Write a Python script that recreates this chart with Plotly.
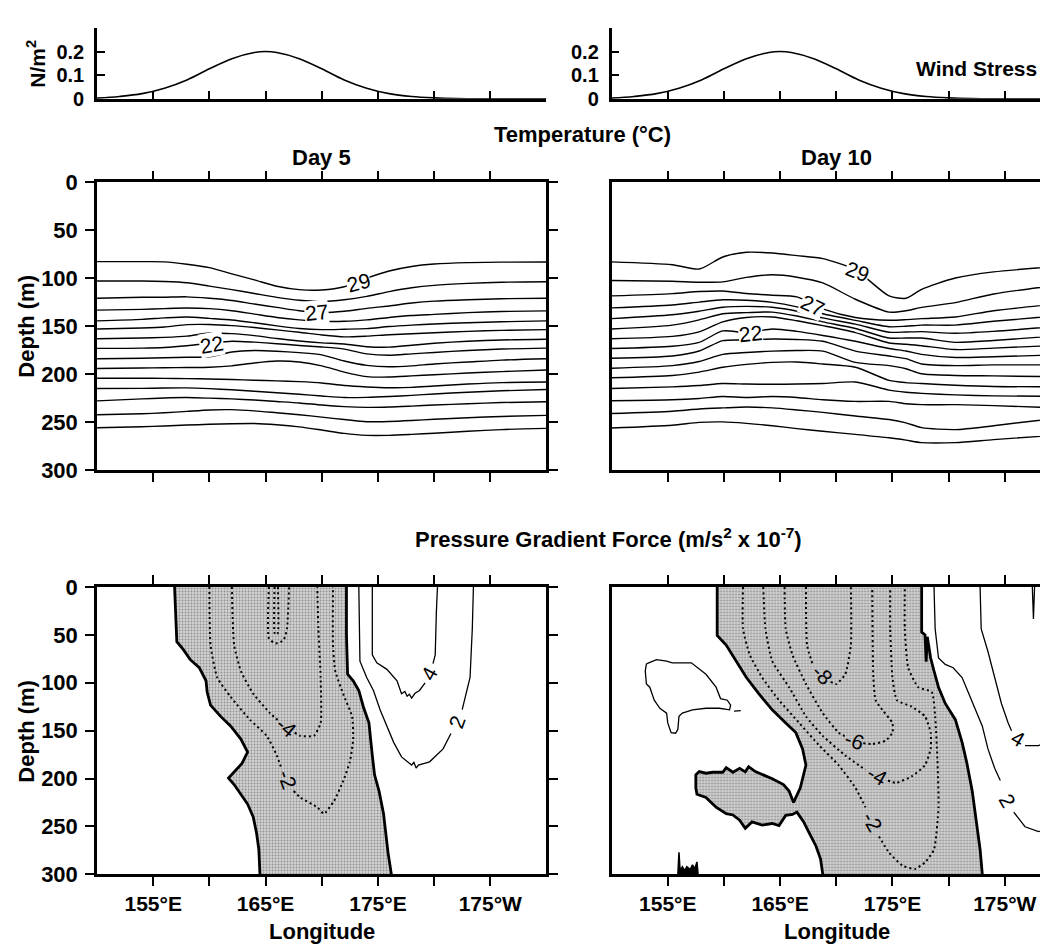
import plotly.graph_objects as go

FONT = "Liberation Sans, Arial, Helvetica, sans-serif"
W, H = 1048, 949

# ---------------- data ----------------
LON_TICKS = [155, 165, 175, 185]
LON_TICK_TEXT = ["155°E", "165°E", "175°E", "175°W"]
LON_MINOR_TICKS = [160, 170, 180]
WIND_LON_TICKS = [155, 160, 165, 170, 175, 180, 185]
DEPTH_TICKS = [0, 50, 100, 150, 200, 250, 300]
WIND_TICKS = [0, 0.1, 0.2]
WIND_TICK_TEXT = ["0", "0.1", "0.2"]

# Wind stress (N/m^2)
WIND_LON = [150, 152, 154, 156, 158, 160, 162, 164, 165, 166, 168, 170, 172, 174, 176, 178, 180, 182, 185, 190]
WIND_TAU = [0.003, 0.010, 0.022, 0.045, 0.080, 0.127, 0.170, 0.196, 0.200, 0.196, 0.170, 0.127, 0.080,
            0.045, 0.022, 0.010, 0.004, 0.001, 0.0, 0.0]

# Temperature, Day 5: isotherm depths (m) at DAY5_LON
DAY5_LON = [150, 154, 156, 158, 160, 162, 164, 166, 168, 170, 172, 174, 176, 178, 180, 183, 186, 190]
DAY5_T29 = [82.8, 82.8, 83, 85.5, 89, 95.5, 101.8, 108.5, 112, 112.3, 109, 100, 92.5, 87.8, 85.3, 83.8, 83.3, 83.1]
DAY5_T28 = [103, 103, 103.5, 104.8, 108.3, 112, 116, 120, 123, 124.2, 122.5, 119, 114, 110, 107.5, 105.5, 104.3, 103.7]
DAY5_T27 = [120.9, 120, 119.9, 119.5, 121, 123.3, 127, 130.5, 134, 135.8, 134.5, 131.5, 129, 126, 124, 122.5, 121.5, 120.9]
DAY5_T26 = [133.4, 132.6, 131.8, 131.2, 131.8, 134, 137.5, 141, 143.5, 145, 145, 143.5, 141, 139, 137.8, 136, 134.8, 134.1]
DAY5_T25 = [144.6, 143, 141.5, 140.5, 142, 143.6, 146.5, 149.8, 152.5, 153.7, 153.3, 152.7, 150.5, 149, 147.8, 146.5, 145.5, 144.6]
DAY5_T24 = [153, 152, 151, 148.5, 148.3, 149.5, 151.5, 154, 156.5, 159.3, 161.3, 160.5, 159, 158, 157, 155.5, 154.5, 153.7]
DAY5_T23 = [163.2, 162.5, 161.8, 160.5, 157.3, 157.9, 160, 163, 165.6, 167.5, 168.7, 171.5, 172, 170, 168, 165.8, 164.5, 163.8]
DAY5_T22 = [173.3, 173, 172.3, 170.5, 168, 165.8, 166.8, 168.4, 170.2, 171.8, 174, 179, 180.5, 179, 177.5, 175.5, 174, 173]
DAY5_T21 = [184.1, 183.5, 183, 182.5, 182, 177, 175.5, 176.2, 177.7, 180, 186.5, 191, 192.5, 191.5, 189.5, 187.5, 185.5, 184.1]
DAY5_T20 = [194.2, 193.8, 193.5, 193.3, 193, 191.5, 188.5, 186.5, 187.5, 191.5, 198, 202.7, 203.2, 202, 200.8, 199, 197.5, 195.9]
DAY5_T19 = [204.4, 204.4, 204.6, 204.8, 205.3, 205.8, 206.5, 207.2, 208, 209.4, 212, 213.5, 214.3, 214, 212.5, 210.5, 209, 208.4]
DAY5_T18 = [215.2, 215, 214.6, 214.5, 215.3, 216.5, 218, 219.5, 221.2, 223, 224.6, 224.4, 223.5, 222.3, 220.8, 219, 217.5, 216.2]
DAY5_T17 = [228, 226, 225, 224.6, 225.2, 226, 227.2, 228.7, 230.2, 232.4, 234, 234.8, 234.5, 233.5, 232.4, 231, 229.8, 229]
DAY5_T16 = [242.5, 241.5, 240.5, 239, 237.5, 237.2, 238.5, 240.5, 242.5, 245, 247.5, 249.8, 249.5, 248.5, 247.3, 245.7, 244.3, 243.2]
DAY5_T15 = [256.1, 255, 254.2, 253.3, 252.5, 251.9, 251.7, 253, 255.2, 258.5, 262, 264, 264, 263, 261.8, 259.8, 258, 256.7]

# Temperature, Day 10: isotherm depths (m) at DAY10_LON
DAY10_LON = [150, 155.4, 157.8, 159.9, 162, 164.3, 166.5, 168.8, 171.7, 174.7, 176.2, 177.6, 180.6, 184, 190]
DAY10_T29 = [83, 86, 90.5, 77.9, 73, 73.8, 76.5, 79.6, 91.4, 118.5, 121, 111.7, 99.9, 93.5, 87.5]
DAY10_T28 = [102.4, 103.3, 104.3, 103.9, 99.2, 96.5, 99, 105, 122, 135.4, 134, 130.5, 125.5, 116.5, 107]
DAY10_T27 = [118.5, 116.1, 114, 113.4, 116, 117.8, 119.5, 132, 141, 143.9, 143.3, 142.2, 140.5, 134, 126.5]
DAY10_T26 = [131, 128, 125, 122.6, 123, 125.3, 130, 137.1, 144, 150.7, 150.2, 149, 149, 145, 139]
DAY10_T25 = [142.2, 138.2, 134.5, 130.4, 129.5, 130.4, 134.5, 141.5, 148, 156.4, 156.2, 155.8, 157.5, 155.5, 150]
DAY10_T24 = [153, 149, 143.5, 137.1, 136, 135.4, 139.5, 145.6, 152.5, 162.5, 162.5, 162.5, 167, 165, 160]
DAY10_T23 = [163.2, 160.8, 156, 145.6, 141, 140.5, 144.5, 149.6, 156.8, 167.6, 169, 170.5, 174.5, 173, 170]
DAY10_T22 = [173.4, 171, 167, 155, 157, 153, 155.5, 159.8, 165.9, 173.4, 176, 179.5, 182.8, 182, 180]
DAY10_T21 = [183.5, 181.2, 176, 165.2, 164.5, 163.5, 164, 165.9, 176.1, 181.2, 184, 189.6, 191.3, 190.5, 190.5]
DAY10_T20 = [194, 191.3, 187, 179.5, 177.5, 176.1, 175.5, 176.1, 187.9, 191.3, 194.5, 199.8, 201.5, 202, 203]
DAY10_T19 = [203.9, 201.5, 198, 193, 190, 187.9, 187.5, 189.6, 193, 206.6, 209, 210, 211.7, 213, 213.4]
DAY10_T18 = [215.1, 213.4, 212, 210, 210.5, 210.7, 210.5, 210, 208.3, 216.8, 219, 220.2, 221.8, 222.8, 223.5]
DAY10_T17 = [227.9, 226.9, 225.5, 223.5, 224.5, 223.5, 224.5, 226.9, 228.6, 228.6, 231, 232, 232, 233, 235.4]
DAY10_T16 = [241.2, 238.8, 236.5, 235.4, 234.5, 235.4, 237.5, 240, 243.9, 247.5, 251, 256, 258, 254, 245.6]
DAY10_T15 = [256.4, 253.5, 250.5, 250, 251.5, 254, 257, 259.8, 263, 266.6, 269, 271.6, 271.6, 268.5, 263.5]

# isotherm labels: text, lon, depth, angle
DAY5_LABEL_TEXT = ["29", "27", "22"]
DAY5_LABEL_LON = [173.3, 169.5, 160.2]
DAY5_LABEL_DEPTH = [104.5, 135.5, 169.0]
DAY5_LABEL_ANGLE = [-15, -6, -10]
DAY10_LABEL_TEXT = ["29", "27", "22"]
DAY10_LABEL_LON = [171.9, 167.9, 162.4]
DAY10_LABEL_DEPTH = [93.0, 128.5, 157.5]
DAY10_LABEL_ANGLE = [20, 25, -6]

# Pressure gradient force, Day 5 -- zero contour (edges of negative region)
PG5_ZERO_W_LON = [156.9, 157.0, 157.1, 157.7, 158.3, 159.1, 159.7, 159.8, 160.1, 161.0, 161.9, 162.8,
                  163.4, 162.9, 162.2, 161.7, 162.2, 162.8, 163.4, 163.9, 164.2, 164.4, 164.5]
PG5_ZERO_W_DEP = [0, 26.8, 57.2, 65.7, 75.9, 84.3, 97.9, 109.7, 123.3, 135.1, 145.3, 158.8,
                  172.4, 184.2, 192.7, 199.5, 206.2, 216.4, 226.6, 240.1, 257, 274, 300]
PG5_ZERO_E_LON = [172.2, 172.2, 172.3, 172.8, 173.3, 173.7, 174.2, 174.3, 174.5, 174.7, 175.1, 175.5, 175.7, 175.9, 176.2]
PG5_ZERO_E_DEP = [0, 50, 91.1, 97.9, 108, 125, 141.9, 155.4, 175.8, 196.1, 213, 236.7, 257, 277.3, 300]
# negative contours (dotted); None marks the gap under a label
PG5_M2_LON = [160.0, 160.1, 160.7, 161.9, 163.6, 165.1, 166.0, 166.4, None, 167.5, 168.1, 169.6, 170.2,
              171.1, 171.9, 172.5, 172.8, 172.7, 171.9, 171.2, 171.0, 171.0]
PG5_M2_DEP = [0, 60.6, 94.5, 114.8, 138.5, 155.4, 175.8, 189, None, 213, 219.8, 229.9, 236.7,
              223.2, 202.8, 182.5, 158.8, 135.1, 111.4, 87.7, 60.6, 0]
PG5_M4_LON = [162.0, 162.2, 162.8, 163.9, 165.4, 166.2, None, 167.6, 168.1, 169.3, 169.9, 169.9, 169.7, 169.6]
PG5_M4_DEP = [0, 60.6, 87.7, 111.4, 131.7, 140, None, 152, 155.4, 155.4, 141.9, 94.5, 43.7, 0]
PG5_M6_LON = [165.3, 165.3, 165.9, 166.6, 166.9, 167.1]
PG5_M6_DEP = [0, 53.8, 58.9, 55.5, 43.7, 0]
PG5_M8_LON = [165.8, 165.8, 165.95, 166.1, 166.1]
PG5_M8_DEP = [0, 48, 50, 48, 0]
# positive contours (solid)
PG5_P2_LON = [173.3, 173.4, 174.0, 174.6, 175.2, 175.8, 176.4, 177.1, 178.0, 178.2, 178.4, 178.6, 179.6,
              180.8, 181.5, None, 182.5, 183.2, 183.4, 183.5]
PG5_P2_DEP = [0, 77.5, 94.5, 108, 128.4, 145.3, 162.2, 177.4, 185.9, 183, 189, 186, 182.5,
              169, 153, None, 128, 94.5, 43.7, 0]
PG5_P4_LON = [174.5, 174.5, 174.9, 175.8, 176.7, 177.1, 177.4, 177.6, 177.8, 178.0, 178.3, 178.7, 179.2,
              None, 179.9, 180.1, 180.2, 180.3]
PG5_P4_DEP = [0, 70.8, 79.2, 86, 97.9, 111.4, 109, 114, 112, 116, 111, 108, 100,
              None, 80, 70.8, 26.8, 0]
PG5_LABEL_TEXT = ["-4", "-2", "4", "2"]
PG5_LABEL_LON = [166.9, 166.95, 179.55, 182.05]
PG5_LABEL_DEP = [146.5, 201.0, 90.0, 140.5]
PG5_LABEL_ANGLE = [40, 70, -62, -70]

# Pressure gradient force, Day 10
PG10_ZERO_W_LON = [159.4, 159.4, 160.2, 161.1, 162.0, 163.1, 164.3, 165.5, 166.4, 167.0, 167.3, 166.8, 166.2,
                   165.8, 165.3, 164.3, 163.4, 162.8, 162.2, 161.9, 161.4, 160.8, 160.2, 159.9, 159.0, 158.4,
                   157.8, 157.5, 157.5, 157.6, 158.4, 159.3, 160.2, 160.8, 161.4, 161.9, 162.5, 163.4, 164.3,
                   164.9, 165.5, 166.1, 166.5, 167.1, 167.6, 168.2, 168.6, 168.8]
PG10_ZERO_W_DEP = [0, 50.5, 60.6, 77.5, 94.5, 111.4, 128.3, 141.9, 152, 169, 185.9, 209.6, 224.9,
                   213, 206.2, 200.1, 196.1, 192.7, 187.6, 193, 189.3, 193.4, 188.6, 193.4, 193.4, 194.4,
                   192.7, 196.1, 209.6, 216.4, 219.8, 229.9, 236.7, 238, 243.5, 251.9, 245.2, 248.6, 246.9,
                   249, 238.4, 237.4, 235, 245.2, 257, 270.6, 284.1, 300]
PG10_ZERO_E_LON = [177.6, 177.6, 177.9, 178.0, 178.1, 178.3, 178.4, 178.7, 179.1, 179.7, 180.6, 181.2, 181.6,
                   182.1, 182.5, 182.8, 183.0]
PG10_ZERO_E_DEP = [0, 47, 50, 78, 52, 65, 74.2, 87.7, 104.6, 121.6, 138.5, 162.2, 182.5,
                   213, 246.9, 274, 300]
PG10_M2_LON = [161.7, 161.7, 162.3, 163.4, 164.9, 166.7, 168.5, 170.2, 171.7, 172.6, None, 173.8, 174.7,
               175.9, 177.0, 177.9, 178.7, 179.1, 179.0, 178.8, 178.5, 177.3, 176.4, 176.1, 176.1]
PG10_M2_DEP = [0, 43.7, 70.8, 94.5, 118.2, 141.9, 165.6, 185.9, 209.6, 230, None, 260.4, 277.3,
               290.9, 294.3, 287.5, 274, 229.9, 179.1, 135.1, 109.7, 104.6, 84.3, 43.7, 0]
PG10_M4_LON = [163.5, 163.7, 164.3, 165.8, 167.3, 168.8, 170.8, 172.6, None, 174.6, 175.3, 176.7, 177.9,
               178.4, 178.4, 177.9, 176.7, 175.4, 175.0, 174.8, 174.8]
PG10_M4_DEP = [0, 43.7, 77.5, 104.6, 135.1, 155.4, 175.8, 191, None, 202, 204.5, 197.8, 185.9,
               169, 152, 135.1, 124.9, 118.2, 94.5, 43.7, 0]
PG10_M6_LON = [165.4, 165.5, 166.1, 167.3, 168.8, 170.2, 170.9, None, 172.4, 173.2, 174.4, 175.0, 175.0,
               174.1, 173.5, 173.3, 173.2]
PG10_M6_DEP = [0, 43.7, 70.8, 101.3, 131.7, 152, 156.5, None, 163, 163.9, 160.5, 152, 142,
               128.3, 118.2, 94.5, 0]
PG10_M8_LON = [167.3, 167.4, 167.9, None, 169.5, 170.0, 170.8, 171.3, 171.3]
PG10_M8_DEP = [0, 60.6, 80.9, None, 99, 101.3, 91.1, 60.6, 0]
PG10_P2_LON = [178.7, 178.8, 179.1, 179.7, 180.4, 181.2, 181.8, 182.4, 183.0, 183.5, 184.1, 184.6, None,
               185.8, 186.8, 188.0, 189.3, 190.0]
PG10_P2_DEP = [0, 43.7, 74.2, 80.9, 84.3, 94.5, 111.4, 128.3, 145.3, 169, 189.3, 202, None,
               235, 250.3, 255.3, 250.3, 246]
PG10_P4_LON = [182.8, 182.9, 183.5, 184.1, 184.7, 185.3, 185.6, None, 186.8, 188.0, 189.3, 190.0]
PG10_P4_DEP = [0, 43.7, 67.4, 94.5, 121.6, 141.9, 150, None, 165.6, 165.6, 158.8, 155]
PG10_SPIKE_LON = [187.45, 187.55, 187.65]
PG10_SPIKE_DEP = [0, 33.5, 0]
PG10_ISLAND_LON = [153.1, 154.0, 154.9, 155.4, 157.1, 157.5, 158.4, 159.3, 159.7, 160.3, 160.6, 160.5, 159.6,
                   158.4, 157.2, 156.3, 156.0, 155.9, 155.7, 155.3, 155.0, 154.9, 154.3, 153.8, 153.4, 153.1,
                   153.0, 153.1]
PG10_ISLAND_DEP = [80.3, 75.9, 77.5, 79.2, 79.2, 82.6, 91.1, 104.6, 116.5, 118.2, 123.3, 128.3, 126.6,
                   126.6, 128.3, 131.7, 135.1, 148.7, 152.7, 152, 141.9, 131.7, 126.6, 118.2, 104.6, 101.3,
                   87.7, 80.3]
PG10_DASH_LON = [160.9, 161.5]
PG10_DASH_DEP = [129.5, 129.0]
PG10_BLOB_LON = [155.9, 156.0, 156.1, 156.3, 156.5, 156.7, 157.0, 157.2, 157.4, 157.6, 157.7]
PG10_BLOB_DEP = [300, 277, 296, 292, 296, 292, 295, 290, 294, 287, 300]
PG10_LABEL_TEXT = ["-8", "-6", "-4", "-2", "4", "2"]
PG10_LABEL_LON = [168.75, 171.6, 173.65, 173.2, 186.2, 185.25]
PG10_LABEL_DEP = [91.5, 160.5, 196.5, 245.0, 158.5, 222.5]
PG10_LABEL_ANGLE = [45, 20, 30, 60, 30, 60]

# ---------------- geometry ----------------
def fx(p):
    return p / W


def fy(p):
    return 1 - p / H


PX_PER_DEG = (540.0 - 89.3) / 40.0
XL = [fx(89.3), fx(540.0)]
XR = [fx(605.3), 1.0]
XR_RANGE = [150, 150 + (W - 605.3) / PX_PER_DEG]
Y_WIND = [fy(81.0), fy(8.1)]
Y_TEMP = [fy(462.0), fy(166.7)]
Y_PGF = [fy(877.5), fy(582.3)]

BLACK = "black"
THIN = 1.3
THICK = 2.8
fig = go.Figure()


def line(x, y, ax, width=THIN, dash="solid", shape="spline", smoothing=0.6):
    fig.add_trace(go.Scatter(x=x, y=y, xaxis="x" + ax, yaxis="y" + ax, mode="lines",
                             line=dict(color=BLACK, width=width, dash=dash, shape=shape,
                                       smoothing=smoothing),
                             hoverinfo="skip", showlegend=False, connectgaps=False))


# wind stress
line(WIND_LON, WIND_TAU, "", width=1.6, smoothing=1.0)
line(WIND_LON, WIND_TAU, "2", width=1.6, smoothing=1.0)

# temperature
for iso in [DAY5_T29, DAY5_T28, DAY5_T27, DAY5_T26, DAY5_T25, DAY5_T24, DAY5_T23, DAY5_T22,
            DAY5_T21, DAY5_T20, DAY5_T19, DAY5_T18, DAY5_T17, DAY5_T16, DAY5_T15]:
    line(DAY5_LON, iso, "3", width=1.4, smoothing=0.7)
for iso in [DAY10_T29, DAY10_T28, DAY10_T27, DAY10_T26, DAY10_T25, DAY10_T24, DAY10_T23, DAY10_T22,
            DAY10_T21, DAY10_T20, DAY10_T19, DAY10_T18, DAY10_T17, DAY10_T16, DAY10_T15]:
    line(DAY10_LON, iso, "4", width=1.4, smoothing=0.7)

STIPPLE = dict(shape=".", bgcolor="#d2d2d2", fgcolor="#4a4a4a", size=3, solidity=0.3)


def shaded(lon_w, dep_w, lon_e, dep_e, ax):
    xs = list(lon_w) + list(reversed(lon_e))
    ys = list(dep_w) + list(reversed(dep_e))
    fig.add_trace(go.Scatter(x=xs, y=ys, xaxis="x" + ax, yaxis="y" + ax, mode="lines", fill="toself",
                             fillcolor="#cccccc", fillpattern=STIPPLE, line=dict(width=0, color="rgba(0,0,0,0)"),
                             hoverinfo="skip", showlegend=False))
    line(lon_w, dep_w, ax, width=THICK, shape="linear")
    line(lon_e, dep_e, ax, width=THICK, shape="linear")


# pressure gradient force, day 5
shaded(PG5_ZERO_W_LON, PG5_ZERO_W_DEP, PG5_ZERO_E_LON, PG5_ZERO_E_DEP, "5")
for lx, ly in [(PG5_M2_LON, PG5_M2_DEP), (PG5_M4_LON, PG5_M4_DEP), (PG5_M6_LON, PG5_M6_DEP),
               (PG5_M8_LON, PG5_M8_DEP)]:
    line(lx, ly, "5", width=2.0, dash="2px,3px", smoothing=0.5)
for lx, ly in [(PG5_P2_LON, PG5_P2_DEP), (PG5_P4_LON, PG5_P4_DEP)]:
    line(lx, ly, "5", width=THIN, shape="linear")

# pressure gradient force, day 10
shaded(PG10_ZERO_W_LON, PG10_ZERO_W_DEP, PG10_ZERO_E_LON, PG10_ZERO_E_DEP, "6")
for lx, ly in [(PG10_M2_LON, PG10_M2_DEP), (PG10_M4_LON, PG10_M4_DEP), (PG10_M6_LON, PG10_M6_DEP),
               (PG10_M8_LON, PG10_M8_DEP)]:
    line(lx, ly, "6", width=2.0, dash="2px,3px", smoothing=0.5)
for lx, ly in [(PG10_P2_LON, PG10_P2_DEP), (PG10_P4_LON, PG10_P4_DEP), (PG10_SPIKE_LON, PG10_SPIKE_DEP),
               (PG10_ISLAND_LON, PG10_ISLAND_DEP), (PG10_DASH_LON, PG10_DASH_DEP)]:
    line(lx, ly, "6", width=THIN, shape="linear")
fig.add_trace(go.Scatter(x=PG10_BLOB_LON, y=PG10_BLOB_DEP, xaxis="x6", yaxis="y6", mode="lines",
                         fill="toself", fillcolor=BLACK, line=dict(color=BLACK, width=1.5),
                         hoverinfo="skip", showlegend=False))

# ---------------- axes ----------------
AX_FONT = dict(family=FONT, size=22, color=BLACK, weight="bold")
FRAME = dict(showline=True, linecolor=BLACK, linewidth=2.6, showgrid=False, zeroline=False,
             tickcolor=BLACK, tickwidth=2, ticklen=9, tickfont=AX_FONT)
MINOR = dict(tickvals=LON_MINOR_TICKS, ticks="outside", ticklen=9, tickwidth=2, tickcolor=BLACK, showgrid=False)

layout_axes = {}
# wind
for i, (xd, xr) in enumerate([(XL, [150, 190]), (XR, XR_RANGE)]):
    sfx = "" if i == 0 else "2"
    layout_axes["xaxis" + sfx] = dict(FRAME, domain=xd, range=xr, anchor="y" + sfx, ticks="inside",
                                      tickvals=WIND_LON_TICKS, showticklabels=False, mirror=False, ticklen=8)
    layout_axes["yaxis" + sfx] = dict(FRAME, domain=Y_WIND, range=[0, 0.3], anchor="x" + sfx, ticks="inside",
                                      tickvals=WIND_TICKS, ticktext=WIND_TICK_TEXT, mirror=False, ticklen=8,
                                      tickfont=dict(AX_FONT, size=20), ticklabelstandoff=6)
# temperature + pgf
for n, yd, labels in [(3, Y_TEMP, False), (5, Y_PGF, True)]:
    for k, (xd, xr) in enumerate([(XL, [150, 190]), (XR, XR_RANGE)]):
        sfx = str(n + k)
        layout_axes["xaxis" + sfx] = dict(FRAME, domain=xd, range=xr, anchor="y" + sfx, ticks="outside",
                                          mirror="ticks", tickvals=LON_TICKS, ticktext=LON_TICK_TEXT,
                                          minor=MINOR, showticklabels=labels, ticklabelstandoff=0,
                                          tickfont=dict(AX_FONT, size=21))
        if k == 0:
            layout_axes["yaxis" + sfx] = dict(FRAME, domain=yd, range=[300, 0], anchor="x" + sfx,
                                              ticks="outside", mirror="ticks", tickvals=DEPTH_TICKS,
                                              ticklabelstandoff=3)
        else:
            layout_axes["yaxis" + sfx] = dict(FRAME, domain=yd, range=[300, 0], anchor="x" + sfx,
                                              ticks="", mirror=True, showticklabels=False)

# ---------------- annotations ----------------
TITLE_FONT = dict(family=FONT, size=22, color=BLACK, weight="bold")
ann = []


def text(t, x, y, angle=0, size=None, xanchor="center"):
    f = dict(TITLE_FONT)
    if size:
        f["size"] = size
    ann.append(dict(text=t, x=fx(x), y=fy(y), xref="paper", yref="paper", showarrow=False,
                    textangle=angle, font=f, xanchor=xanchor, yanchor="middle"))


text("N/m<sup>2</sup>", 28, 45, angle=-90, size=21)
text("Wind Stress", 1034, 50, xanchor="right", size=21)
text("Temperature (°C)", 576, 118)
text("Day 5", 314.7, 141)
text("Day 10", 831, 141)
text("Pressure Gradient Force (m/s<sup>2</sup> x 10<sup>-7</sup>)", 406, 532, xanchor="left")
text("Depth (m)", 19, 314, angle=-90)
text("Depth (m)", 19, 730, angle=-90)
text("Longitude", 314.7, 936)
text("Longitude", 831, 936)

LABEL_FONT = dict(family=FONT, size=21, color=BLACK)


def clabels(texts, lons, deps, angles, ax, bg):
    for t, x, y, a in zip(texts, lons, deps, angles):
        d = dict(text=t, x=x, y=y, xref="x" + ax, yref="y" + ax, showarrow=False, textangle=a,
                 font=LABEL_FONT, xanchor="center", yanchor="middle", borderpad=0)
        if bg:
            d["bgcolor"] = "white"
        ann.append(d)


clabels(DAY5_LABEL_TEXT, DAY5_LABEL_LON, DAY5_LABEL_DEPTH, DAY5_LABEL_ANGLE, "3", True)
clabels(DAY10_LABEL_TEXT, DAY10_LABEL_LON, DAY10_LABEL_DEPTH, DAY10_LABEL_ANGLE, "4", True)
clabels(PG5_LABEL_TEXT, PG5_LABEL_LON, PG5_LABEL_DEP, PG5_LABEL_ANGLE, "5", False)
clabels(PG10_LABEL_TEXT, PG10_LABEL_LON, PG10_LABEL_DEP, PG10_LABEL_ANGLE, "6", False)

fig.update_layout(width=W, height=H, autosize=False, margin=dict(l=0, r=0, t=0, b=0, pad=0),
                  paper_bgcolor="white", plot_bgcolor="white", showlegend=False,
                  annotations=ann, **layout_axes)

fig.write_html("out.html")
